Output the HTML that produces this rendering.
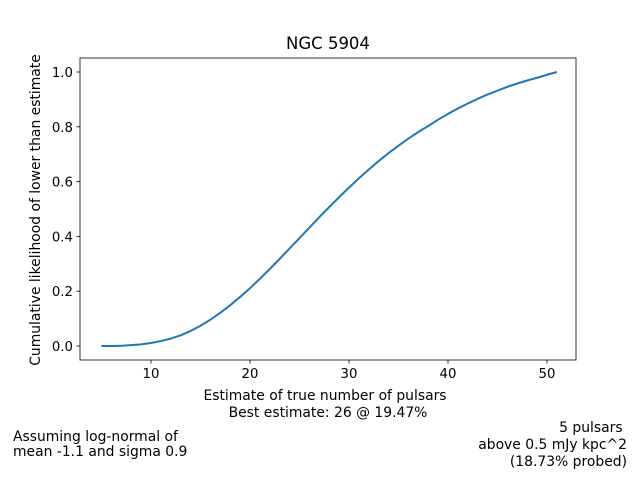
<!DOCTYPE html>
<html><head><meta charset="utf-8"><style>
body{margin:0;background:#fff}
svg{display:block;font-family:"DejaVu Sans","Liberation Sans",sans-serif}
</style></head><body>
<svg width="640" height="480">
<rect width="640" height="480" fill="#fff"/>
<text x="328" y="49" font-size="16.5" text-anchor="middle">NGC 5904</text>
<g id="axes"></g>
<text x="325" y="400" font-size="13.9" text-anchor="middle">Estimate of true number of pulsars</text>
<text x="328" y="417" font-size="13.9" text-anchor="middle">Best estimate: 26 @ 19.47%</text>
<text transform="translate(40,210) rotate(-90)" font-size="13.9" text-anchor="middle">Cumulative likelihood of lower than estimate</text>
<text x="13" y="441" font-size="13.9">Assuming log-normal of</text>
<text x="13" y="456" font-size="13.9">mean -1.1 and sigma 0.9</text>
<text x="627" y="432" font-size="13.9" text-anchor="end" xml:space="preserve">5 pulsars </text>
<text x="627" y="449" font-size="13.9" text-anchor="end">above 0.5 mJy kpc^2</text>
<text x="627" y="466" font-size="13.9" text-anchor="end">(18.73% probed)</text>
</svg>
<script>
const xs=[5,6,7,8,9,10,11,12,13,14,15,16,17,18,19,20,21,22,23,24,25,26,27,28,29,30,31,32,33,34,35,36,37,38,39,40,41,42,43,44,45,46,47,48,49,50,51];
const ys=[0,0,0.001,0.003,0.006,0.011,0.018,0.027,0.039,0.055,0.074,0.096,0.121,0.149,0.179,0.211,0.245,0.281,0.318,0.356,0.394,0.432,0.47,0.507,0.543,0.578,0.612,0.644,0.675,0.704,0.731,0.757,0.781,0.803,0.826,0.847,0.867,0.885,0.902,0.918,0.932,0.946,0.958,0.969,0.979,0.99,1.0];
const xTicks=[10,20,30,40,50];
const yTicks=[0.0,0.2,0.4,0.6,0.8,1.0];
const L=80,R=576,T=58,B=360;
const X=v=>151+(v-10)*9.9;
const Y=v=>346-v*274;
const NS="http://www.w3.org/2000/svg";
const g=document.getElementById('axes');
function mk(t,a){const e=document.createElementNS(NS,t);for(const k in a)e.setAttribute(k,a[k]);g.appendChild(e);return e;}
const fr=mk('rect',{x:L,y:T,width:R-L,height:B-T,fill:'none',stroke:'#000','stroke-width':0.8});


xTicks.forEach(t=>{
 const l=mk('line',{x1:X(t),x2:X(t),y1:B,y2:B+3.5,stroke:'#000','stroke-width':0.8});
 
 
 const tx=mk('text',{x:X(t),y:B+18,'font-size':13.3,'text-anchor':'middle'});tx.textContent=t;
 
 
});
yTicks.forEach(t=>{
 const l=mk('line',{x1:L-3.5,x2:L,y1:Y(t),y2:Y(t),stroke:'#000','stroke-width':0.8});
 
 
 const tx=mk('text',{x:L-7,y:Y(t)+5,'font-size':13.3,'text-anchor':'end'});tx.textContent=t.toFixed(1);
 
 
});
const p=mk('path',{d:xs.map((x,i)=>(i?'L':'M')+X(x).toFixed(2)+','+Y(ys[i]).toFixed(2)).join(''),fill:'none',stroke:'#1f77b4','stroke-width':2,'stroke-linejoin':'round'});


</script>
</body></html>
